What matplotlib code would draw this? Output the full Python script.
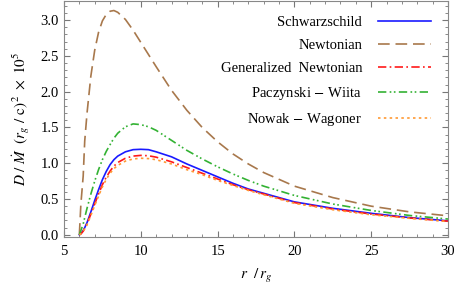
import numpy as np
import matplotlib
matplotlib.use("Agg")
import matplotlib.pyplot as plt
from matplotlib.ticker import MultipleLocator

# radius r / r_g at which the curves were read
r = [6, 6.1, 6.25, 6.35, 6.5, 6.75, 7, 7.25, 7.5, 7.75, 8, 8.25, 8.5, 9, 9.5, 10,
     10.5, 11, 12, 13, 14, 15, 16, 17, 18, 20, 22.5, 25, 27.5, 30]

schwarzschild = [0, 0.015, 0.06, 0.10, 0.17, 0.32, 0.48, 0.63, 0.77, 0.885, 0.98,
                 1.05, 1.10, 1.16, 1.19, 1.195, 1.19, 1.16, 1.09, 0.99, 0.90, 0.81,
                 0.72, 0.64, 0.58, 0.46, 0.37, 0.30, 0.24, 0.195]
newtonian = [0, 0.43, 0.82, 1.31, 1.70, 2.22, 2.58, 2.83, 2.99, 3.08, 3.125, 3.135,
             3.11, 3.01, 2.86, 2.69, 2.52, 2.35, 2.02, 1.74, 1.50, 1.30, 1.13,
             0.99, 0.87, 0.68, 0.52, 0.40, 0.32, 0.265]
gen_newtonian = [0, 0.012, 0.05, 0.09, 0.15, 0.29, 0.43, 0.57, 0.70, 0.805, 0.89,
                 0.96, 1.01, 1.07, 1.10, 1.11, 1.105, 1.085, 1.02, 0.94, 0.86, 0.78,
                 0.70, 0.63, 0.57, 0.45, 0.36, 0.29, 0.235, 0.19]
paczynski_wiita = [0, 0.06, 0.15, 0.24, 0.37, 0.57, 0.75, 0.91, 1.05, 1.165, 1.26,
                   1.35, 1.42, 1.51, 1.55, 1.54, 1.51, 1.46, 1.32, 1.18, 1.06, 0.95,
                   0.85, 0.76, 0.68, 0.55, 0.43, 0.34, 0.27, 0.22]
nowak_wagoner = [0, 0.012, 0.05, 0.085, 0.14, 0.27, 0.41, 0.54, 0.67, 0.775, 0.86,
                 0.925, 0.97, 1.03, 1.06, 1.07, 1.065, 1.05, 0.99, 0.91, 0.84, 0.76,
                 0.69, 0.62, 0.56, 0.44, 0.35, 0.28, 0.23, 0.185]

labels = ["Schwarzschild", "Newtonian", "Generalized  Newtonian",
          "Paczynski $-$ Wiita", "Nowak $-$ Wagoner"]

plt.rcParams['font.family'] = ['Liberation Serif', 'DejaVu Serif']
plt.rcParams['mathtext.fontset'] = 'stix'

fig = plt.figure(figsize=(4.58, 2.90), dpi=100)
ax = fig.add_axes([0.1397, 0.183, 0.8385, 0.814])

ax.plot(r, schwarzschild, color='#1a1aff', lw=1.2, label=labels[0])
ax.plot(r, newtonian, color='#a8784c', lw=1.2, dashes=(7, 3.5), label=labels[1])
ax.plot(r, gen_newtonian, color='#ff1a1a', lw=1.2, dashes=(5, 2, 1, 2), label=labels[2])
ax.plot(r, paczynski_wiita, color='#33b233', lw=1.2,
        dashes=(5, 2, 1, 1.5, 1, 2), label=labels[3])
ax.plot(r, nowak_wagoner, color='#ff9933', lw=1.2, dashes=(1.5, 2), label=labels[4])

ax.set_xlim(5, 30)
ax.set_ylim(-0.03, 3.27)
ax.xaxis.set_major_locator(MultipleLocator(5))
ax.xaxis.set_minor_locator(MultipleLocator(1))
ax.yaxis.set_major_locator(MultipleLocator(0.5))
ax.yaxis.set_minor_locator(MultipleLocator(0.1))
ax.yaxis.set_major_formatter(matplotlib.ticker.FormatStrFormatter('%.1f'))
ax.tick_params(which='both', direction='in', top=True, right=True,
               color='#777777', labelsize=10.5)
ax.tick_params(which='major', length=4)
ax.tick_params(which='minor', length=2)
ax.tick_params(axis='x', pad=6)
for s in ax.spines.values():
    s.set_color('#888888')
    s.set_linewidth(0.8)

ax.set_xlabel(r'$r\ \ /\,r_g$', fontsize=11, labelpad=6)
ax.set_ylabel(r'$D\ /\ \dot{M}\ \ (r_g\ /\ \mathrm{c})^{\,2}\ \times\ 10^{5}$',
              fontsize=11, labelpad=6)

leg = ax.legend(loc='upper right', frameon=False, markerfirst=False,
                fontsize=10.5, handlelength=3.6, handletextpad=1.1,
                labelspacing=0.66, borderpad=0, borderaxespad=0,
                bbox_to_anchor=(0.955, 0.935))
for t in leg.get_texts():
    t.set_ha('right')
leg._legend_box.align = 'right'

fig.savefig('out.png', dpi=100)
